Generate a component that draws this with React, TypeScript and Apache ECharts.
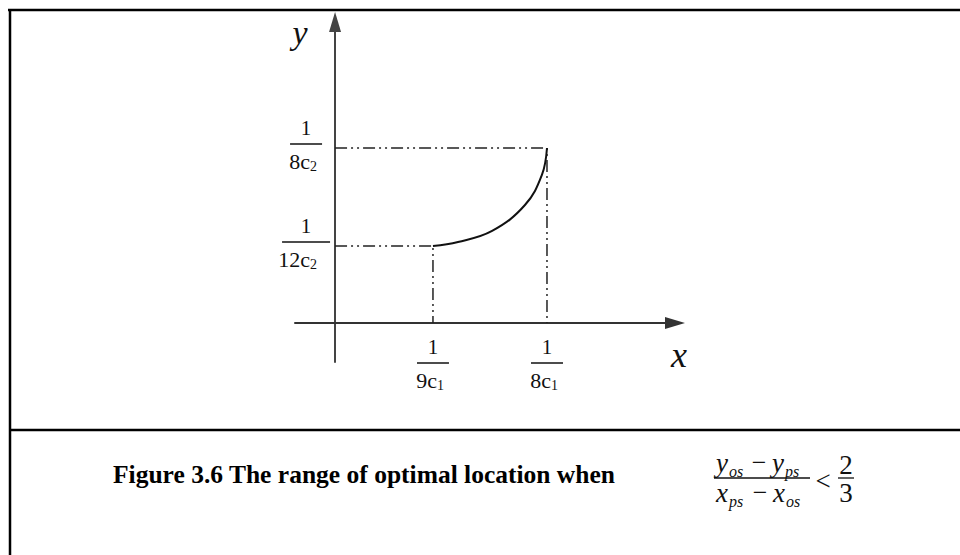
import React, { useEffect, useRef } from "react";
import * as echarts from "echarts";

// Schematic units: the far tick on each axis sits at 1.
const X_MIN = -0.189;
const X_MAX = 1.604;
const Y_MIN = -0.223;
const Y_MAX = 1.72;

// Tick positions and their fraction labels (1 / (k·c_i))
const xTickValues = [0.462, 1.0];
const xTickDenoms = ["9c", "8c"];
const xTickSubs = ["1", "1"];

const yTickValues = [0.44, 1.0];
const yTickDenoms = ["12c", "8c"];
const yTickSubs = ["2", "2"];

// The feasible range of the optimal location, from (1/9c1, 1/12c2) to (1/8c1, 1/8c2)
const curveX = [0.462, 0.58, 0.741, 0.896, 0.976, 1.0];
const curveY = [0.44, 0.463, 0.526, 0.674, 0.846, 1.0];

// Corner points projected onto both axes
const guideX = [0.462, 1.0];
const guideY = [0.44, 1.0];

const SERIF = '"Liberation Serif", "Times New Roman", serif';
const INK = "#111";

function fractionLabel(cx: number, top: number, den: string, sub: string) {
  const barHalf = den.length * 8;
  return [
    {
      type: "text",
      x: cx,
      y: top,
      style: { text: "1", font: `21px ${SERIF}`, fill: INK, align: "center", verticalAlign: "middle" },
    },
    {
      type: "line",
      shape: { x1: cx - barHalf, y1: top + 16, x2: cx + barHalf, y2: top + 16 },
      style: { stroke: INK, lineWidth: 1.5 },
    },
    {
      type: "text",
      x: cx + 4,
      y: top + 34,
      style: { text: den, font: `22px ${SERIF}`, fill: INK, align: "right", verticalAlign: "middle" },
    },
    {
      type: "text",
      x: cx + 4,
      y: top + 39,
      style: { text: sub, font: `14px ${SERIF}`, fill: INK, align: "left", verticalAlign: "middle" },
    },
  ];
}

function mathTerm(x: number, y: number, base: string, sub: string) {
  return [
    {
      type: "text",
      x,
      y,
      style: { text: base, font: `italic 27px ${SERIF}`, fill: INK, align: "left", verticalAlign: "middle" },
    },
    {
      type: "text",
      x: x + 13,
      y: y + 8,
      style: { text: sub, font: `italic 16px ${SERIF}`, fill: INK, align: "left", verticalAlign: "middle" },
    },
  ];
}

export default function App() {
  const ref = useRef<HTMLDivElement>(null);

  useEffect(() => {
    if (!ref.current) return;
    const chart = echarts.init(ref.current, undefined, { renderer: "svg" });

    const guideSeries = guideX.map((gx, i) => ({
      type: "line",
      data: [
        [0, guideY[i]],
        [gx, guideY[i]],
        [gx, 0],
      ],
      symbol: "none",
      silent: true,
      z: 2,
      lineStyle: { color: "#222", width: 1.5, type: [12, 4, 2, 4, 2, 4] },
    }));

    chart.setOption({
      animation: false,
      backgroundColor: "#ffffff",
      grid: { left: 295, right: 285, top: 22, bottom: 193, containLabel: false },
      xAxis: {
        type: "value",
        min: X_MIN,
        max: X_MAX,
        axisLine: {
          onZero: true,
          symbol: ["none", "triangle"],
          symbolSize: [12, 20],
          lineStyle: { color: "#333", width: 2 },
        },
        axisTick: { show: false },
        axisLabel: { show: false },
        splitLine: { show: false },
      },
      yAxis: {
        type: "value",
        min: Y_MIN,
        max: Y_MAX,
        axisLine: {
          onZero: true,
          symbol: ["none", "triangle"],
          symbolSize: [12, 20],
          lineStyle: { color: "#444", width: 2 },
        },
        axisTick: { show: false },
        axisLabel: { show: false },
        splitLine: { show: false },
      },
      series: [
        ...guideSeries,
        {
          type: "line",
          data: curveX.map((x, i) => [x, curveY[i]]),
          smooth: 0.4,
          symbol: "none",
          silent: true,
          z: 3,
          lineStyle: { color: INK, width: 2 },
        },
        {
          type: "custom",
          silent: true,
          z: 4,
          data: xTickValues.map((v) => [v, 0]),
          renderItem: (params: any, api: any) => {
            const p = api.coord([api.value(0), 0]);
            const i = params.dataIndex;
            return {
              type: "group",
              children: fractionLabel(p[0], p[1] + 24, xTickDenoms[i], xTickSubs[i]),
            };
          },
        },
        {
          type: "custom",
          silent: true,
          z: 4,
          data: yTickValues.map((v) => [0, v]),
          renderItem: (params: any, api: any) => {
            const p = api.coord([0, api.value(1)]);
            const i = params.dataIndex;
            return {
              type: "group",
              children: fractionLabel(p[0] - 29, p[1] - 20, yTickDenoms[i], yTickSubs[i]),
            };
          },
        },
      ],
      graphic: [
        // frame of the figure box
        { type: "line", shape: { x1: 8, y1: 10, x2: 960, y2: 10 }, style: { stroke: "#000", lineWidth: 2.5 } },
        { type: "line", shape: { x1: 10, y1: 9, x2: 10, y2: 555 }, style: { stroke: "#000", lineWidth: 2.5 } },
        { type: "line", shape: { x1: 9, y1: 430, x2: 960, y2: 430 }, style: { stroke: "#000", lineWidth: 2.5 } },
        // axis names
        {
          type: "text",
          x: 300,
          y: 32,
          style: { text: "y", font: `italic 34px ${SERIF}`, fill: INK, align: "center", verticalAlign: "middle" },
        },
        {
          type: "text",
          x: 679,
          y: 355,
          style: { text: "x", font: `italic 36px ${SERIF}`, fill: INK, align: "center", verticalAlign: "middle" },
        },
        // caption
        {
          type: "text",
          x: 113,
          y: 474,
          style: {
            text: "Figure 3.6 The range of optimal location when",
            font: `bold 25.5px ${SERIF}`,
            fill: "#000",
            align: "left",
            verticalAlign: "middle",
          },
        },
        ...mathTerm(716, 463, "y", "os"),
        {
          type: "text",
          x: 759,
          y: 462,
          style: { text: "−", font: `26px ${SERIF}`, fill: INK, align: "center", verticalAlign: "middle" },
        },
        ...mathTerm(772, 463, "y", "ps"),
        { type: "line", shape: { x1: 714, y1: 478, x2: 810, y2: 478 }, style: { stroke: INK, lineWidth: 1.3 } },
        ...mathTerm(716, 493, "x", "ps"),
        {
          type: "text",
          x: 760,
          y: 492,
          style: { text: "−", font: `26px ${SERIF}`, fill: INK, align: "center", verticalAlign: "middle" },
        },
        ...mathTerm(773, 493, "x", "os"),
        {
          type: "text",
          x: 823,
          y: 481,
          style: { text: "<", font: `27px ${SERIF}`, fill: INK, align: "center", verticalAlign: "middle" },
        },
        {
          type: "text",
          x: 846,
          y: 465,
          style: { text: "2", font: `27px ${SERIF}`, fill: INK, align: "center", verticalAlign: "middle" },
        },
        { type: "line", shape: { x1: 838, y1: 478, x2: 854, y2: 478 }, style: { stroke: INK, lineWidth: 1.3 } },
        {
          type: "text",
          x: 846,
          y: 493,
          style: { text: "3", font: `27px ${SERIF}`, fill: INK, align: "center", verticalAlign: "middle" },
        },
      ],
    });

    return () => chart.dispose();
  }, []);

  return (
    <div
      ref={ref}
      style={{ position: "fixed", left: 0, top: 0, width: 960, height: 555, background: "#fff" }}
    />
  );
}
